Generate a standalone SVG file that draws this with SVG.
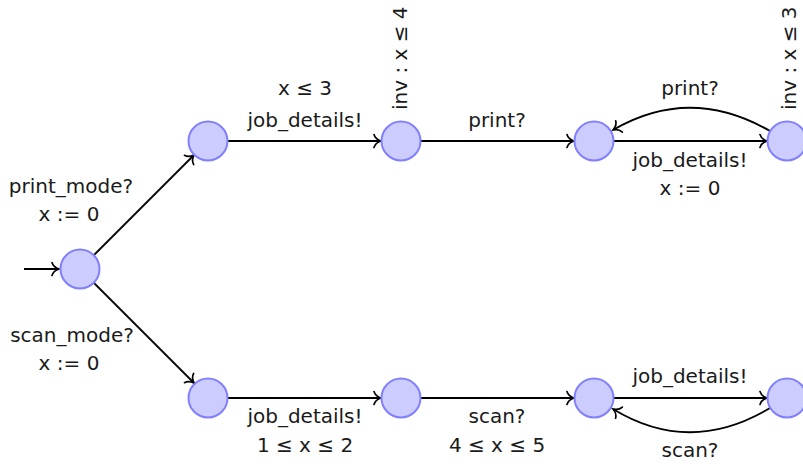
<svg xmlns="http://www.w3.org/2000/svg" width="803" height="466" viewBox="0 0 803 466">
<style>
.st{fill:#ccccff;stroke:#8080ff;stroke-width:2}
.e{fill:none;stroke:#000;stroke-width:1.8;marker-end:url(#arr)}
text{font-family:"DejaVu Sans","Liberation Sans",sans-serif;font-size:20px;fill:#1a1a1a;text-anchor:middle}
</style>
<defs>
<marker id="arr" markerUnits="userSpaceOnUse" markerWidth="16" markerHeight="16" refX="0" refY="0" orient="auto" overflow="visible">
<path d="M-7,-6.5 C-6,-3 -2.5,-0.8 0,0 C-2.5,0.8 -6,3 -7,6.5" fill="none" stroke="#000" stroke-width="1.7" stroke-linecap="round"/>
</marker>
</defs>
<rect width="803" height="466" fill="#fff"/>
<g id="connectors">
<path class="e" d="M24,269 L59,269"/>
<path class="e" d="M94,255 L194,155"/>
<path class="e" d="M94,283 L194,383"/>
<path class="e" d="M228,141 L381,141"/>
<path class="e" d="M421,141 L574,141"/>
<path class="e" d="M614,141 L767,141"/>
<path class="e" d="M770,131 Q690,85 613,130"/>
<path class="e" d="M228,398 L381,398"/>
<path class="e" d="M421,398 L574,398"/>
<path class="e" d="M614,398 L767,398"/>
<path class="e" d="M770,408 Q690,456 613,409"/>
</g>
<g id="labels">
<text x="71" y="193">print_mode?</text>
<text x="69" y="221">x := 0</text>
<text x="72" y="342">scan_mode?</text>
<text x="69" y="370">x := 0</text>
<text x="305" y="95">x ≤ 3</text>
<text x="305" y="127">job_details!</text>
<text x="497" y="127">print?</text>
<text x="690" y="95">print?</text>
<text x="690" y="167">job_details!</text>
<text x="690" y="195">x := 0</text>
<text x="305" y="423">job_details!</text>
<text x="305" y="452">1 ≤ x ≤ 2</text>
<text x="497" y="423">scan?</text>
<text x="497" y="452">4 ≤ x ≤ 5</text>
<text x="690" y="383">job_details!</text>
<text x="690" y="457">scan?</text>
</g>
<g id="s0"><circle class="st" cx="80" cy="269" r="19.5"/></g>
<g id="s1"><circle class="st" cx="208" cy="141" r="19.5"/></g>
<g id="s2"><circle class="st" cx="401" cy="141" r="19.5"/>
<text transform="translate(407,110) rotate(-90)" style="text-anchor:start">inv : x ≤ 4</text></g>
<g id="s3"><circle class="st" cx="594" cy="141" r="19.5"/></g>
<g id="s4"><circle class="st" cx="787" cy="141" r="19.5"/>
<text transform="translate(796,110) rotate(-90)" style="text-anchor:start">inv : x ≤ 3</text></g>
<g id="s5"><circle class="st" cx="208" cy="398" r="19.5"/></g>
<g id="s6"><circle class="st" cx="401" cy="398" r="19.5"/></g>
<g id="s7"><circle class="st" cx="594" cy="398" r="19.5"/></g>
<g id="s8"><circle class="st" cx="787" cy="398" r="19.5"/></g>
</svg>
